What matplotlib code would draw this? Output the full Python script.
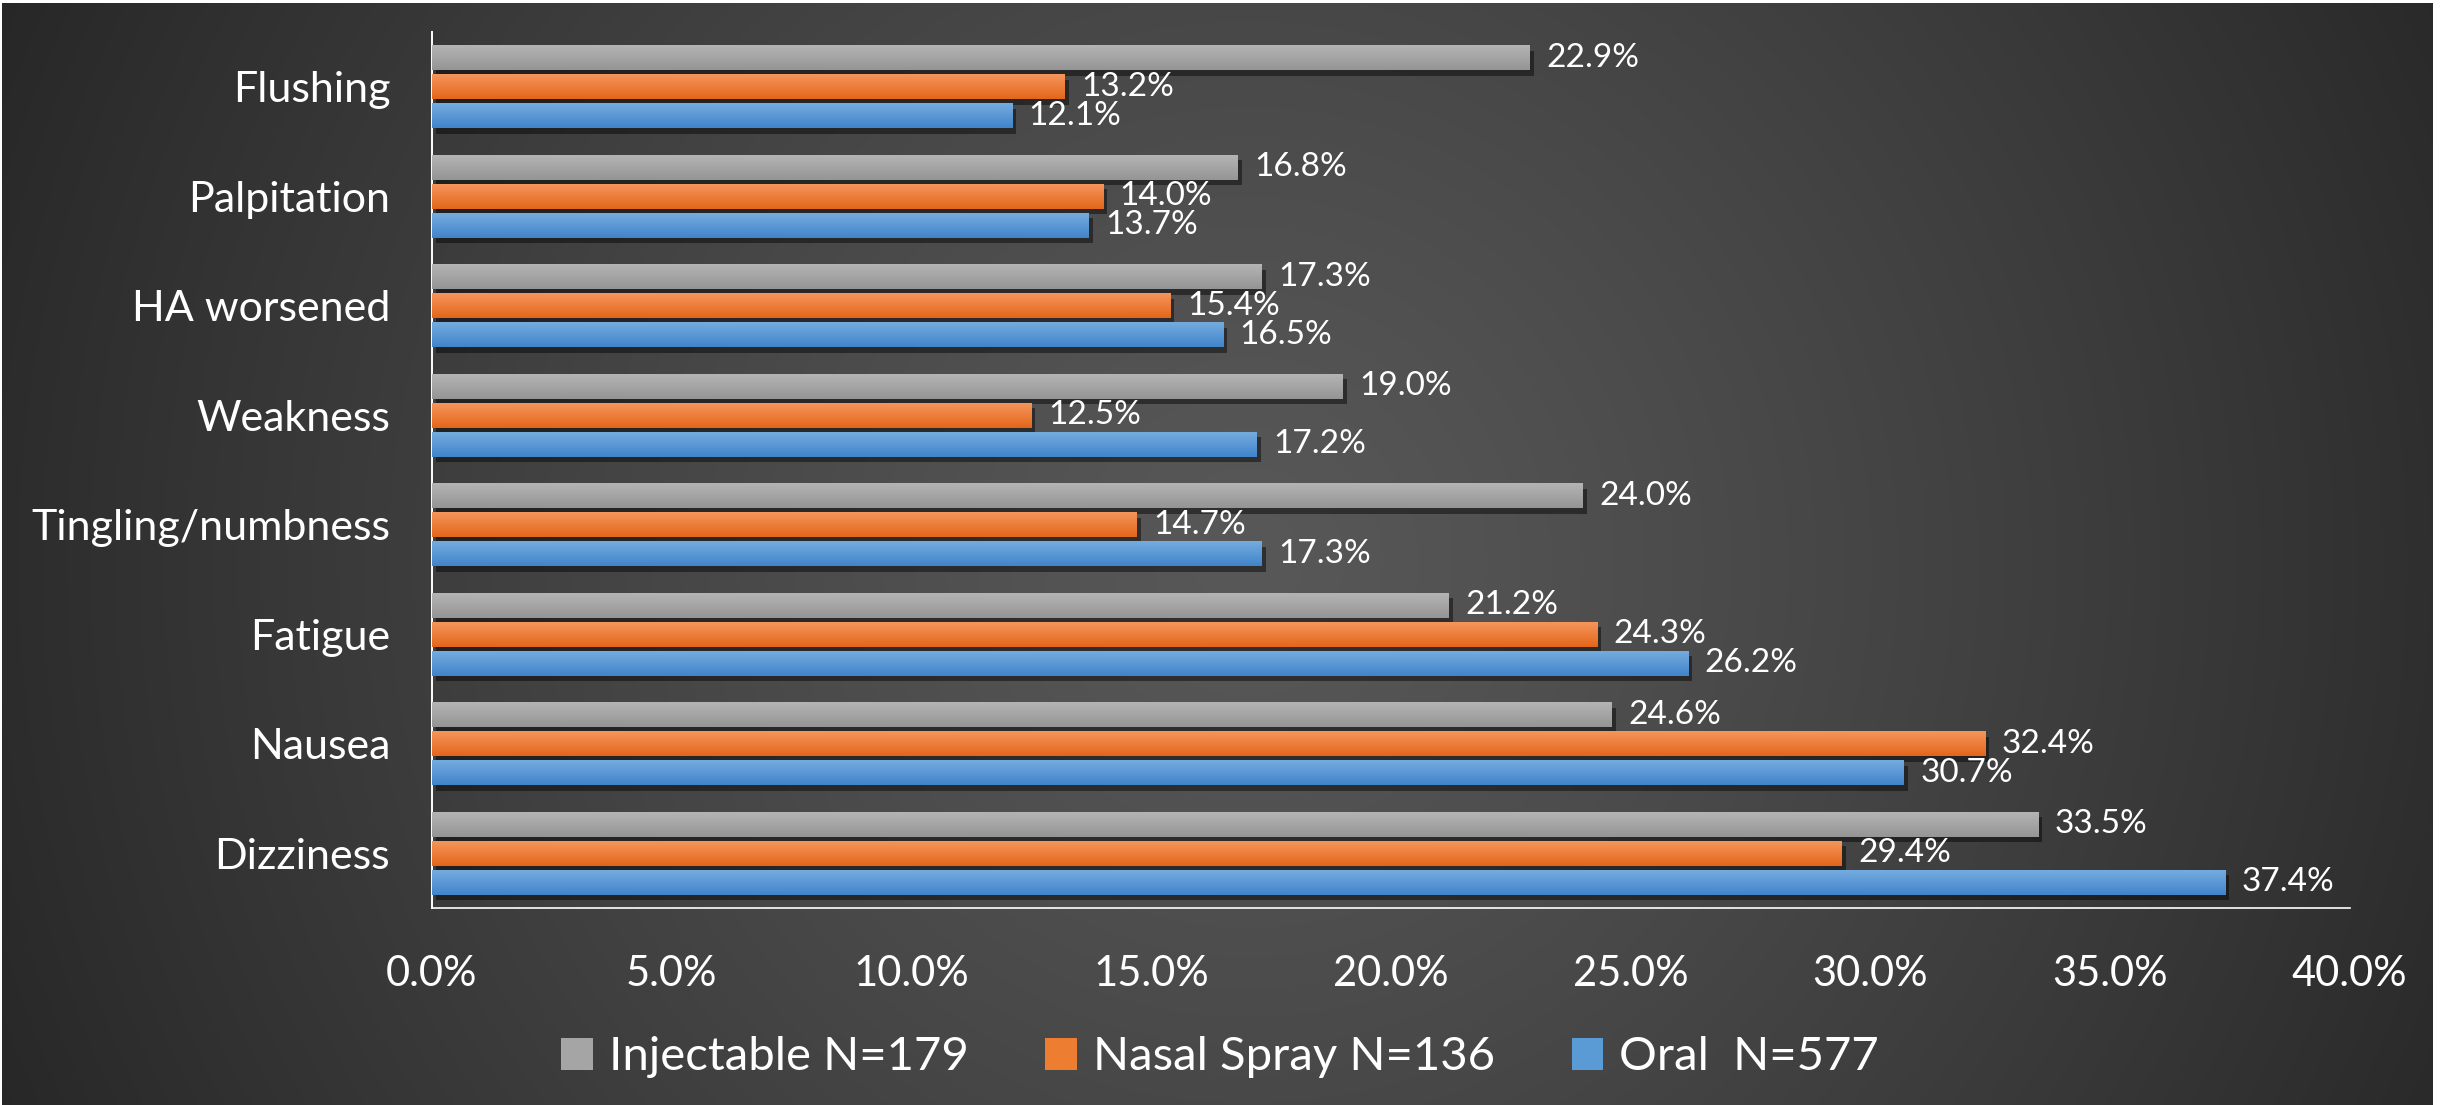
import numpy as np
import matplotlib
matplotlib.use("Agg")
import matplotlib.pyplot as plt
import matplotlib.patheffects as pe
from matplotlib.patches import Patch
from matplotlib.colors import to_rgb

plt.rcParams['font.family'] = ['Lato', 'DejaVu Sans']

# data (bottom to top, as in the original chart)
categories = ['Dizziness', 'Nausea', 'Fatigue', 'Tingling/numbness',
              'Weakness', 'HA worsened', 'Palpitation', 'Flushing']
injectable = [33.5, 24.6, 21.2, 24.0, 19.0, 17.3, 16.8, 22.9]
nasal = [29.4, 32.4, 24.3, 14.7, 12.5, 15.4, 14.0, 13.2]
oral = [37.4, 30.7, 26.2, 17.3, 17.2, 16.5, 13.7, 12.1]
series_names = ['Injectable N=179', 'Nasal Spray N=136', 'Oral  N=577']
xticks = [0, 5, 10, 15, 20, 25, 30, 35, 40]

# (top colour, bottom colour) of the bar gradients
grads = [('#b4b4b4', '#959595'), ('#f5965c', '#e3661a'), ('#74acdf', '#4284cb')]

fig = plt.figure(figsize=(24.4, 11.05), dpi=100, facecolor='white')

# radial dark background
bg = fig.add_axes([0.0008, 0, 0.9963, 0.9973])
H, W = 400, 880
yy, xx = np.mgrid[0:H, 0:W]
d = np.hypot((xx / W * 2440 - 1250), (yy / H * 1105 - 560)) / 1400
val = (88 - 50 * np.clip(d, 0, 1.1) ** 1.2) / 255
bg.imshow(np.dstack([val, val, val]), aspect='auto', extent=(0, 1, 0, 1), origin='upper')
bg.set_axis_off()

ax = fig.add_axes([0.177, 0.1783, 0.786, 0.7927])
ax.set_facecolor('none')

y = np.arange(len(categories))
step, h = 0.265, 0.228
groups = [(injectable, step), (nasal, 0.0), (oral, -step)]

for (vals, off), (c_top, c_bot) in zip(groups, grads):
    bars = ax.barh(y + off, vals, height=h, color=c_bot, zorder=2,
                   path_effects=[pe.SimplePatchShadow(offset=(3, -4), shadow_rgbFace='black', alpha=0.45),
                                 pe.Normal()])
    grad = np.linspace(0, 1, 64)[:, None]
    t, b = np.array(to_rgb(c_top)), np.array(to_rgb(c_bot))
    img = (t[None, None, :] * (1 - grad[..., None]) + b[None, None, :] * grad[..., None])
    for bar, v in zip(bars, vals):
        y0 = bar.get_y()
        ax.imshow(img, extent=(0, v, y0, y0 + h), aspect='auto', origin='upper', zorder=3)
        ax.annotate(f'{v:.1f}%', (v, y0 + h / 2), xytext=(12, 0), textcoords='offset points',
                    va='center', ha='left', color='white', fontsize=24, zorder=4)

ax.set_xlim(0, 40)
ax.set_ylim(-0.5, len(categories) - 0.5)
ax.set_xticks(xticks)
ax.set_xticklabels([f'{t:.1f}%' for t in xticks])
ax.set_yticks(y)
ax.set_yticklabels(categories)
ax.tick_params(axis='both', length=0, colors='white', labelsize=30)
ax.tick_params(axis='y', labelsize=31, pad=30)
ax.tick_params(axis='x', pad=34)
for s in ['top', 'right']:
    ax.spines[s].set_visible(False)
ax.spines['left'].set_color('white')
ax.spines['bottom'].set_color('white')
ax.spines['left'].set_linewidth(1.4)
ax.spines['bottom'].set_linewidth(1.2)

handles = [Patch(facecolor='#a5a5a5'), Patch(facecolor='#ed7d31'), Patch(facecolor='#5b9bd5')]
leg = fig.legend(handles, series_names, loc='center', bbox_to_anchor=(0.5, 0.043), ncol=3,
                 frameon=False, fontsize=34, labelcolor='white', handlelength=0.66,
                 handleheight=0.66, handletextpad=0.34, columnspacing=1.63)

fig.savefig('out.png', dpi=100, facecolor='white')
